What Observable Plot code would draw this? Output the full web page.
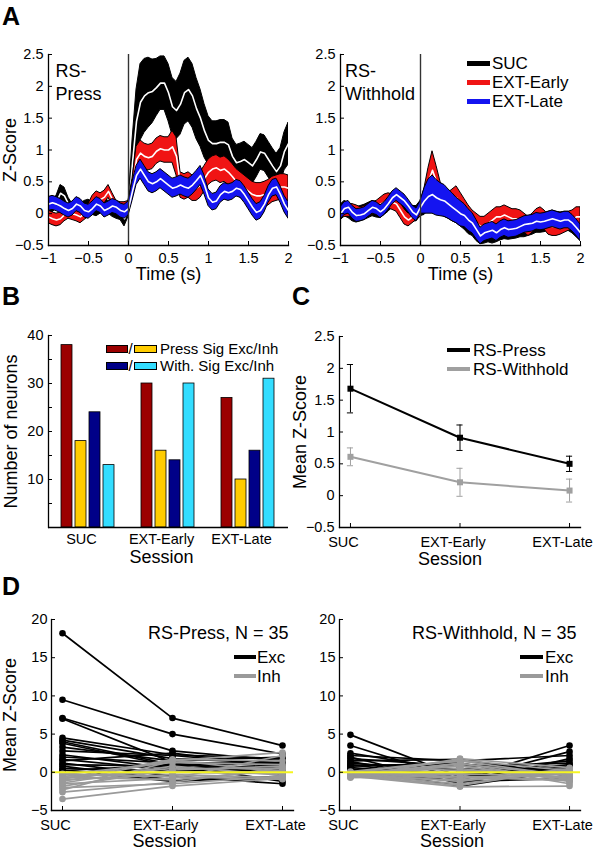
<!DOCTYPE html>
<html><head><meta charset="utf-8">
<script src="https://cdn.jsdelivr.net/npm/d3@7"></script>
<script src="https://cdn.jsdelivr.net/npm/@observablehq/plot@0.6"></script>
<style>
html,body{margin:0;padding:0;background:#fff;}
#fig{position:relative;width:594px;height:853px;overflow:hidden;background:#fff;font-family:'Liberation Sans',Arial,Helvetica,sans-serif;color:#000;}
#fig svg{position:absolute;overflow:visible;}
.lbl{position:absolute;font-weight:bold;line-height:1;font-size:25px;}
.leg{position:absolute;white-space:nowrap;line-height:0.9;}
.sw{position:absolute;box-sizing:border-box;}
</style></head><body><div id="fig"></div><script>
const FONT = "'Liberation Sans', Arial, Helvetica, sans-serif";
const fig = document.getElementById("fig");

// ---------- Panel A data ----------
const timeA = [-1.00,-0.95,-0.90,-0.85,-0.80,-0.75,-0.70,-0.65,-0.60,-0.55,-0.50,-0.45,-0.40,-0.35,-0.30,-0.25,-0.20,-0.15,-0.10,-0.05,0.00,0.05,0.10,0.15,0.20,0.25,0.30,0.35,0.40,0.45,0.50,0.55,0.60,0.65,0.70,0.75,0.80,0.85,0.90,0.95,1.00,1.05,1.10,1.15,1.20,1.25,1.30,1.35,1.40,1.45,1.50,1.55,1.60,1.65,1.70,1.75,1.80,1.85,1.90,1.95,2.00];
const xTicksA = [-1, -0.5, 0, 0.5, 1, 1.5, 2];
const yTicksA = [-0.5, 0, 0.5, 1, 1.5, 2, 2.5];
const seriesA = ["SUC", "EXT-Early", "EXT-Late"];

const pressSucMean = [0.13,0.12,0.18,0.32,0.28,0.15,0.05,0.02,0.05,0.10,0.12,0.08,0.06,0.10,0.13,0.10,0.05,0.02,0.00,-0.08,0.05,0.80,1.45,1.75,1.85,1.90,1.92,1.98,2.05,2.05,1.90,1.68,1.62,1.72,1.90,1.95,1.85,1.65,1.50,1.30,1.15,1.10,1.10,1.12,1.12,1.08,0.90,0.80,0.82,0.85,0.80,0.75,0.85,0.97,0.95,0.85,0.75,0.66,0.75,0.98,1.10];
const pressSucSem = [0.10,0.10,0.10,0.13,0.13,0.10,0.10,0.10,0.10,0.10,0.10,0.10,0.10,0.10,0.10,0.10,0.10,0.10,0.10,0.12,0.10,0.35,0.50,0.60,0.58,0.55,0.50,0.45,0.42,0.42,0.45,0.45,0.45,0.48,0.50,0.50,0.50,0.48,0.45,0.42,0.38,0.35,0.35,0.35,0.35,0.35,0.28,0.28,0.28,0.28,0.28,0.28,0.28,0.28,0.28,0.28,0.28,0.28,0.28,0.30,0.33];
const pressEarlyMean = [-0.05,-0.08,-0.10,-0.08,-0.02,0.02,0.00,-0.02,-0.05,0.00,0.05,0.18,0.25,0.22,0.26,0.35,0.22,0.10,0.08,0.08,0.10,0.40,0.85,0.95,0.90,0.88,0.90,0.98,1.02,1.00,1.00,1.05,0.90,0.45,0.42,0.45,0.40,0.40,0.45,0.55,0.65,0.70,0.72,0.68,0.70,0.65,0.58,0.50,0.45,0.40,0.35,0.30,0.28,0.28,0.30,0.33,0.38,0.40,0.42,0.42,0.40];
const pressEarlySem = [0.10,0.10,0.10,0.10,0.10,0.10,0.10,0.10,0.10,0.10,0.10,0.10,0.10,0.10,0.10,0.10,0.10,0.10,0.10,0.10,0.10,0.15,0.20,0.20,0.20,0.20,0.20,0.20,0.20,0.20,0.20,0.25,0.30,0.20,0.20,0.20,0.20,0.20,0.20,0.20,0.20,0.20,0.20,0.20,0.20,0.20,0.20,0.20,0.20,0.20,0.20,0.20,0.20,0.20,0.20,0.20,0.20,0.20,0.20,0.20,0.20];
const pressLateMean = [0.15,0.17,0.15,0.12,0.08,0.05,0.08,0.15,0.12,0.05,0.03,0.08,0.15,0.12,0.05,0.08,0.12,0.10,0.05,0.03,0.08,0.35,0.60,0.70,0.60,0.50,0.47,0.50,0.55,0.50,0.45,0.40,0.42,0.45,0.42,0.40,0.45,0.52,0.60,0.45,0.25,0.18,0.20,0.30,0.35,0.33,0.35,0.40,0.38,0.30,0.20,0.10,0.02,0.05,0.15,0.30,0.40,0.42,0.30,0.15,0.05];
const pressLateSem = [0.11,0.11,0.11,0.11,0.11,0.11,0.11,0.11,0.11,0.11,0.11,0.11,0.11,0.11,0.11,0.11,0.11,0.11,0.11,0.11,0.11,0.15,0.15,0.15,0.15,0.15,0.15,0.15,0.15,0.15,0.15,0.15,0.15,0.15,0.15,0.15,0.15,0.15,0.15,0.15,0.13,0.13,0.13,0.13,0.13,0.13,0.13,0.13,0.13,0.13,0.13,0.13,0.13,0.13,0.13,0.13,0.13,0.13,0.13,0.13,0.13];

const withSucMean = [0.02,0.08,0.05,0.00,-0.02,0.00,0.02,0.05,0.08,0.06,0.05,0.10,0.15,0.22,0.25,0.20,0.12,0.05,0.00,0.00,0.08,0.18,0.25,0.28,0.22,0.18,0.15,0.12,0.08,0.05,0.00,-0.05,-0.12,-0.20,-0.28,-0.33,-0.32,-0.30,-0.32,-0.30,-0.27,-0.25,-0.26,-0.25,-0.24,-0.22,-0.22,-0.20,-0.18,-0.15,-0.15,-0.14,-0.12,-0.10,-0.12,-0.13,-0.12,-0.12,-0.16,-0.22,-0.28];
const withSucSem = [0.12,0.12,0.12,0.12,0.12,0.12,0.12,0.12,0.12,0.12,0.12,0.12,0.12,0.12,0.12,0.12,0.12,0.12,0.12,0.12,0.12,0.20,0.20,0.20,0.20,0.20,0.20,0.20,0.20,0.20,0.20,0.20,0.20,0.15,0.15,0.15,0.15,0.15,0.15,0.15,0.15,0.15,0.15,0.15,0.15,0.15,0.15,0.15,0.15,0.15,0.15,0.15,0.15,0.15,0.15,0.15,0.15,0.15,0.15,0.15,0.15];
const withEarlyMean = [0.00,0.05,0.05,0.05,0.03,0.00,0.02,0.05,0.08,0.10,0.15,0.18,0.20,0.18,0.15,0.05,-0.05,-0.10,-0.05,0.00,0.05,0.25,0.50,0.68,0.50,0.30,0.20,0.15,0.20,0.25,0.15,0.05,-0.05,-0.10,-0.15,-0.20,-0.20,-0.15,-0.10,-0.05,-0.05,-0.02,-0.05,-0.08,-0.08,-0.10,-0.15,-0.20,-0.15,-0.08,-0.05,-0.10,-0.18,-0.20,-0.20,-0.18,-0.15,-0.12,-0.10,-0.05,-0.05];
const withEarlySem = [0.10,0.10,0.10,0.10,0.10,0.10,0.10,0.10,0.10,0.10,0.10,0.12,0.12,0.12,0.12,0.12,0.12,0.10,0.10,0.10,0.10,0.15,0.22,0.30,0.25,0.20,0.18,0.18,0.18,0.18,0.18,0.18,0.18,0.15,0.15,0.15,0.15,0.15,0.15,0.15,0.15,0.15,0.15,0.15,0.15,0.15,0.15,0.15,0.15,0.15,0.15,0.15,0.15,0.15,0.15,0.15,0.15,0.15,0.15,0.15,0.15];
const withLateMean = [0.00,0.08,0.10,0.02,-0.03,-0.02,0.00,0.05,0.10,0.08,0.03,0.08,0.16,0.25,0.30,0.25,0.20,0.12,0.03,-0.02,0.10,0.20,0.27,0.30,0.25,0.22,0.20,0.15,0.10,0.05,0.00,-0.03,-0.10,-0.15,-0.25,-0.35,-0.30,-0.28,-0.26,-0.30,-0.25,-0.22,-0.25,-0.24,-0.23,-0.20,-0.17,-0.16,-0.15,-0.12,-0.13,-0.12,-0.10,-0.08,-0.10,-0.12,-0.10,-0.10,-0.15,-0.22,-0.30];
const withLateSem = [0.10,0.10,0.10,0.10,0.10,0.10,0.10,0.10,0.10,0.10,0.10,0.10,0.10,0.10,0.10,0.10,0.10,0.10,0.10,0.10,0.10,0.20,0.27,0.30,0.28,0.26,0.25,0.23,0.22,0.20,0.20,0.18,0.17,0.16,0.15,0.13,0.13,0.13,0.13,0.13,0.13,0.13,0.13,0.13,0.13,0.13,0.13,0.13,0.13,0.13,0.13,0.13,0.13,0.13,0.13,0.13,0.13,0.13,0.13,0.13,0.13];

// ---------- Panel B data ----------
const sessions = ["SUC", "EXT-Early", "EXT-Late"];
const seriesB = ["Press Exc", "Press Inh", "With. Exc", "With. Inh"];
const countPressExc = [38, 30, 27];
const countPressInh = [18, 16, 10];
const countWithExc = [24, 14, 16];
const countWithInh = [13, 30, 31];
const yTicksB = [10, 20, 30, 40];
const yMinorB = [5, 15, 25, 35];

// ---------- Panel C data ----------
const groupsC = ["RS-Press", "RS-Withhold"];
const cPressMean = [1.68, 0.91, 0.50];
const cPressSem = [0.38, 0.20, 0.12];
const cWithMean = [0.61, 0.21, 0.08];
const cWithSem = [0.14, 0.22, 0.18];
const yTicksC = [-0.5, 0, 0.5, 1, 1.5, 2, 2.5];

// ---------- Panel D data (SUC, EXT-Early, EXT-Late) ----------
const yTicksD = [-5, 0, 5, 10, 15, 20];
const pressExc = [[18.2,7.1,3.5],[9.5,5.0,2.4],[7.1,2.8,1.5],[7.0,1.3,1.1],[4.5,2.3,1.8],[4.2,1.8,1.2],[4.0,1.0,0.5],[3.8,0.8,1.3],[3.3,1.5,2.0],[2.8,2.2,1.0],[2.3,0.5,0.8],[2.0,1.2,-0.3],[1.7,0.3,1.0],[1.5,2.5,0.7],[1.2,-0.5,-1.5],[1.0,0.8,1.6],[0.8,-1.0,-0.8],[0.5,0.2,0.3],[0.3,-1.2,-0.5],[0.2,1.0,-1.2]];
const pressInh = [[-3.5,-1.8,-0.8],[-2.3,1.5,2.6],[-2.0,-1.5,-0.5],[-1.8,0.3,0.8],[-1.5,-0.8,2.2],[-1.2,1.6,0.0],[-1.0,-0.3,-0.7],[-0.8,0.5,0.5],[-0.6,-1.0,0.3],[-0.5,0.0,-0.2],[-0.3,1.3,1.0],[-0.2,-0.6,-0.9],[-2.6,-1.3,0.6],[-1.4,0.8,-0.4],[-0.9,1.7,1.5]];
const withExc = [[4.9,-0.6,0.5],[3.5,-0.9,3.5],[2.2,1.5,2.2],[2.0,-1.5,1.8],[1.8,0.8,1.2],[1.5,1.7,-0.5],[1.2,0.2,1.5],[1.0,-0.8,0.8],[0.8,1.2,-1.0],[0.5,-1.8,0.3],[0.3,0.5,-0.3],[1.4,-1.0,2.7],[0.9,1.0,0.2],[0.6,-0.3,1.0],[0.2,-1.2,-0.8],[2.5,0.2,0.0]];
const withInh = [[-0.6,1.8,0.6],[-0.5,-1.9,-1.8],[-0.4,1.2,-1.2],[-0.3,-1.5,0.3],[-0.2,0.8,-0.8],[-0.1,-0.8,0.0],[0.0,1.5,-0.5],[-0.7,-0.5,-1.0],[-0.4,0.3,-0.3],[-0.2,-1.2,0.5],[-0.5,0.9,-1.5],[-0.3,-0.2,-0.6],[0.1,1.6,0.2],[-0.6,-1.0,-0.2],[-0.1,0.5,-0.9],[-0.4,-1.7,0.4],[-0.2,1.1,-0.4],[0.0,-0.6,-1.1],[-0.5,0.0,0.1]];

// ---------- helpers ----------
const TICK = 14.5, LAB = 18, LEG = 17;
const numFmt = d3.format("~g");
const baseStyle = {background: "transparent", overflow: "visible", fontFamily: FONT, fontSize: "14.5px", color: "black"};
function place(svg, left, top) { svg.style.left = left + "px"; svg.style.top = top + "px"; fig.appendChild(svg); }
function band(t, m, s) { return t.map((ti, i) => ({t: ti, m: m[i], lo: m[i] - s[i], hi: m[i] + s[i]})); }
function frameLines(extra = {}) {
  return [Plot.frame({anchor: "left", strokeWidth: 1.3, ...extra}), Plot.frame({anchor: "bottom", strokeWidth: 1.3, ...extra})];
}
function yAxis(ticks, pad = 9) {
  return Plot.axisY({ticks, tickSize: -4, tickPadding: pad, tickFormat: numFmt, label: null, fontSize: TICK});
}
function catXAxis(pad) {
  return [
    Plot.axisX({ticks: [1, 2, 3], tickSize: -4, tickFormat: () => "", label: null}),
    Plot.axisX({ticks: [1, 2, 3], tickSize: 0, tickPadding: pad, tickFormat: i => sessions[i - 1], label: null, fontSize: TICK, dx: -7})
  ];
}
function xLabel(txt, dy, dx = 0, extra = {}) {
  return Plot.text([txt], {frameAnchor: "bottom", dy, dx, lineAnchor: "middle", textAnchor: "middle", fontSize: LAB, ...extra});
}
function yLabel(txt, dx, extra = {}) {
  return Plot.text([txt], {frameAnchor: "left", dx, rotate: -90, lineAnchor: "middle", textAnchor: "middle", fontSize: LAB, ...extra});
}
function addLetter(ch, left, top) {
  const d = document.createElement("div"); d.className = "lbl"; d.textContent = ch;
  d.style.left = left + "px"; d.style.top = top + "px"; fig.appendChild(d);
}
function addText(txt, left, yc, fs) {
  const t = document.createElement("div"); t.className = "leg"; t.textContent = txt;
  Object.assign(t.style, {left: left + "px", top: (yc - 0.4385 * fs) + "px", fontSize: fs + "px"});
  fig.appendChild(t);
}
function addSwatch(left, yc, w, h, color, border) {
  const s = document.createElement("div"); s.className = "sw";
  Object.assign(s.style, {left: left + "px", top: (yc - h / 2) + "px", width: w + "px", height: h + "px", background: color});
  if (border) s.style.border = "1px solid #000";
  fig.appendChild(s);
}

const colorsA = {"SUC": "#000000", "EXT-Early": "#f01414", "EXT-Late": "#1414f0"};

function panelA(data, opts) {
  const marks = [];
  seriesA.forEach((s, k) => {
    marks.push(Plot.areaY(data[k], {x: "t", y1: "lo", y2: "hi", fill: colorsA[s], stroke: "#000", strokeWidth: 1, clip: true}));
    marks.push(Plot.line(data[k], {x: "t", y: "m", stroke: "white", strokeWidth: 1.6, clip: true}));
  });
  marks.push(Plot.ruleX([0], {stroke: "#333", strokeWidth: 1.4}));
  marks.push(Plot.axisX({ticks: xTicksA, tickSize: -4, tickPadding: 10.8, tickFormat: numFmt, label: null, fontSize: TICK}));
  marks.push(yAxis(yTicksA, 9));
  marks.push(...frameLines());
  marks.push(xLabel("Time (s)", 29));
  if (opts.ylabel) marks.push(yLabel(opts.ylabel, -38));
  marks.push(Plot.text([opts.note], {frameAnchor: "top-left", dx: opts.noteDx, dy: 6, textAnchor: "start", lineAnchor: "top", lineHeight: 1.28, fontSize: LAB}));
  return Plot.plot({
    width: opts.width, height: 250, marginLeft: opts.ml, marginRight: opts.mr, marginTop: 14, marginBottom: 45,
    style: baseStyle,
    x: {domain: [-1, 2]}, y: {domain: [-0.5, 2.5]},
    marks
  });
}

// ---------- Panel A ----------
const pressData = [band(timeA, pressSucMean, pressSucSem), band(timeA, pressEarlyMean, pressEarlySem), band(timeA, pressLateMean, pressLateSem)];
const withData = [band(timeA, withSucMean, withSucSem), band(timeA, withEarlyMean, withEarlySem), band(timeA, withLateMean, withLateSem)];
place(panelA(pressData, {width: 296, ml: 48, mr: 8, ylabel: "Z-Score", note: "RS-\nPress", noteDx: 7}), 0, 40);
place(panelA(withData, {width: 298, ml: 44, mr: 14, ylabel: null, note: "RS-\nWithhold", noteDx: 4.5}), 296, 40);
addLetter("A", 2, 3.7);
[63.3, 82.5, 101.7].forEach((yc, k) => { addSwatch(467, yc, 23, 4.5, colorsA[seriesA[k]]); addText(seriesA[k], 492, yc, LEG); });

// ---------- Panel B ----------
const colorsB = ["#9b0000", "#ffcc00", "#000088", "#33ddff"];
const countsB = [countPressExc, countPressInh, countWithExc, countWithInh];
const barRows = [];
sessions.forEach((s, j) => seriesB.forEach((k, i) => barRows.push({session: s, series: k, n: countsB[i][j]})));
place(Plot.plot({
  width: 296, height: 270, marginLeft: 48, marginRight: 8, marginTop: 35, marginBottom: 43,
  style: baseStyle,
  fx: {domain: sessions, paddingInner: 0, paddingOuter: 0},
  x: {domain: seriesB, paddingInner: 0.18, paddingOuter: 0.88, axis: null},
  y: {domain: [0, 40]},
  color: {domain: seriesB, range: colorsB},
  marks: [
    Plot.barY(barRows, {fx: "session", x: "series", y: "n", fill: "series", stroke: "#000", strokeWidth: 0.8}),
    Plot.ruleY([0], {strokeWidth: 1.3}),
    Plot.frame({anchor: "left", strokeWidth: 1.3, facetAnchor: "left"}),
    Plot.axisFx({anchor: "bottom", tickSize: 0, tickPadding: 6, label: null, fontSize: TICK, dx: -7}),
    yAxis(yTicksB, 9),
    Plot.axisY({ticks: yMinorB, tickSize: -4, tickFormat: () => "", label: null}),
    yLabel("Number of neurons", -37, {facetAnchor: "left"}),
    Plot.text(["Session"], {fx: ["EXT-Early"], frameAnchor: "bottom", dy: 30, dx: -7, lineAnchor: "middle", textAnchor: "middle", fontSize: LAB})
  ]
}), 0, 300);
addLetter("B", 2, 283.7);
addSwatch(106, 348.5, 22, 8, colorsB[0], true); addText("/", 128.5, 348.5, 15); addSwatch(134, 348.5, 23, 8, colorsB[1], true); addText("Press Sig Exc/Inh", 160, 348.5, 15);
addSwatch(106, 365.5, 22, 8, colorsB[2], true); addText("/", 128.5, 365.5, 15); addSwatch(134, 365.5, 23, 8, colorsB[3], true); addText("With. Sig Exc/Inh", 160, 365.5, 15);

// ---------- Panel C ----------
const colorC = {"RS-Press": "#000000", "RS-Withhold": "#a0a0a0"};
const cRows = [];
cWithMean.forEach((m, i) => cRows.push({g: "RS-Withhold", i: i + 1, m, lo: m - cWithSem[i], hi: m + cWithSem[i]}));
cPressMean.forEach((m, i) => cRows.push({g: "RS-Press", i: i + 1, m, lo: m - cPressSem[i], hi: m + cPressSem[i]}));
const cap = 0.028;
place(Plot.plot({
  width: 298, height: 270, marginLeft: 43, marginRight: 14, marginTop: 36, marginBottom: 43,
  style: baseStyle,
  x: {domain: [0.9, 3.1]}, y: {domain: [-0.5, 2.5]},
  color: {domain: groupsC, range: groupsC.map(g => colorC[g])},
  marks: [
    Plot.ruleX(cRows, {x: "i", y1: "lo", y2: "hi", stroke: "g", strokeWidth: 1}),
    Plot.ruleY(cRows, {y: "lo", x1: d => d.i - cap, x2: d => d.i + cap, stroke: "g", strokeWidth: 1}),
    Plot.ruleY(cRows, {y: "hi", x1: d => d.i - cap, x2: d => d.i + cap, stroke: "g", strokeWidth: 1}),
    Plot.line(cRows, {x: "i", y: "m", z: "g", stroke: "g", strokeWidth: 2}),
    Plot.dot(cRows, {x: "i", y: "m", symbol: "square", r: 3.4, fill: "g"}),
    ...catXAxis(8.8),
    yAxis(yTicksC, 9),
    ...frameLines(),
    yLabel("Mean Z-Score", -39),
    xLabel("Session", 32, -10)
  ]
}), 296, 300);
addLetter("C", 292, 283.7);
addSwatch(447, 350, 23, 4.5, colorC["RS-Press"]); addText("RS-Press", 473, 350, LEG);
addSwatch(447, 369.2, 23, 4.5, colorC["RS-Withhold"]); addText("RS-Withhold", 473, 369.2, LEG);

// ---------- Panel D ----------
function dRows(list, g) {
  const rows = [];
  list.forEach((v, k) => v.forEach((y, j) => rows.push({id: g + k, g, i: j + 1, v: y})));
  return rows;
}
function panelD(exc, inh, opts) {
  const e = dRows(exc, "Exc"), h = dRows(inh, "Inh");
  const marks = [
    Plot.line(e, {x: "i", y: "v", z: "id", stroke: "#000", strokeWidth: 1.7}),
    Plot.dot(e, {x: "i", y: "v", r: 3.3, fill: "#000"}),
    Plot.line(h, {x: "i", y: "v", z: "id", stroke: "#9a9a9a", strokeWidth: 1.7}),
    Plot.dot(h, {x: "i", y: "v", r: 3.3, fill: "#9a9a9a"}),
    Plot.ruleY([0], {stroke: "#f5f520", strokeWidth: 2}),
    ...catXAxis(8.8),
    yAxis(yTicksD, 8),
    ...frameLines(),
    xLabel("Session", 31, -8),
    Plot.text([opts.title], {frameAnchor: "top-right", dx: opts.titleDx, dy: 14, textAnchor: "end", lineAnchor: "middle", fontSize: LAB})
  ];
  if (opts.ylabel) marks.push(yLabel(opts.ylabel, -41));
  return Plot.plot({
    width: opts.width, height: 253, marginLeft: opts.ml, marginRight: opts.mr, marginTop: 19, marginBottom: 43,
    style: baseStyle,
    x: {domain: [0.9, 3.1]}, y: {domain: [-5, 20]},
    marks
  });
}
place(panelD(pressExc, pressInh, {width: 298, ml: 51, mr: 5, title: "RS-Press, N = 35", titleDx: -5, ylabel: "Mean Z-Score"}), 0, 600);
place(panelD(withExc, withInh, {width: 298, ml: 43, mr: 14, title: "RS-Withhold, N = 35", titleDx: -4, ylabel: null}), 296, 600);
addLetter("D", 2, 573.7);
addSwatch(234, 657, 22, 4.5, "#000"); addText("Exc", 257, 657, LEG);
addSwatch(234, 676.2, 22, 4.5, "#9a9a9a"); addText("Inh", 257, 676.2, LEG);
addSwatch(520, 657, 23, 4.5, "#000"); addText("Exc", 545, 657, LEG);
addSwatch(520, 676.2, 23, 4.5, "#9a9a9a"); addText("Inh", 545, 676.2, LEG);
</script></body></html>
